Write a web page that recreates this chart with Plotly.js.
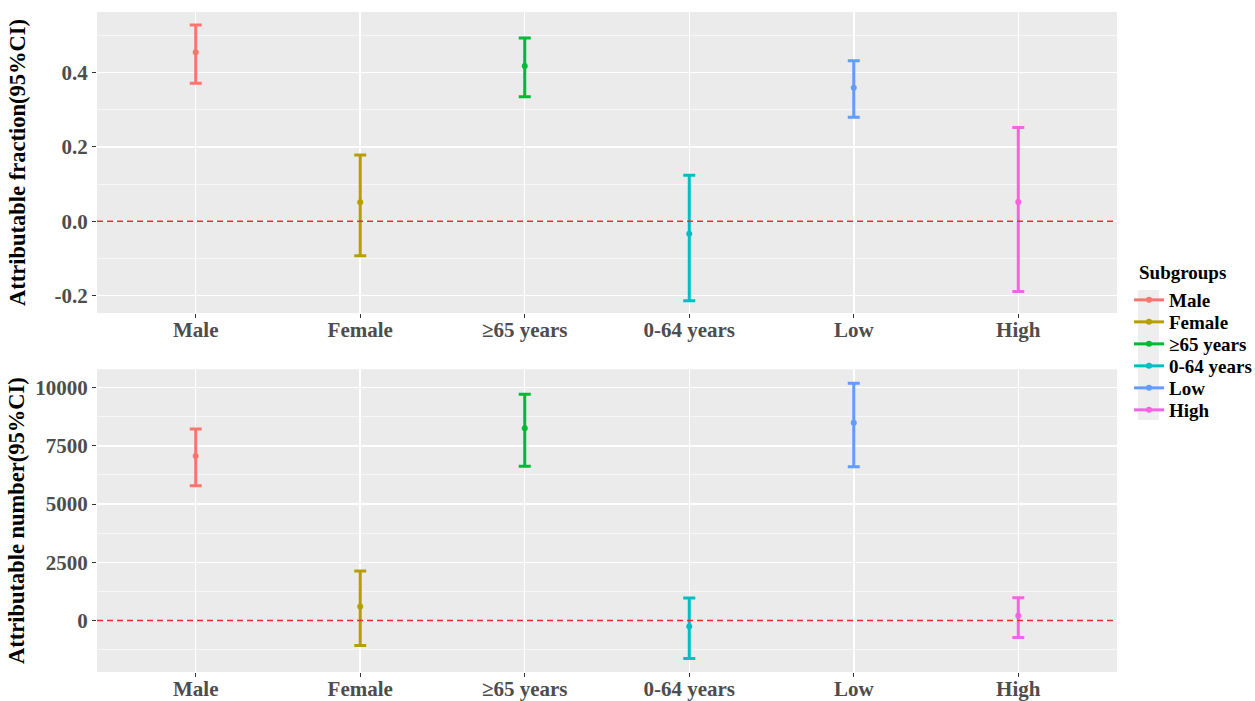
<!DOCTYPE html>
<html>
<head>
<meta charset="utf-8">
<script src="https://cdn.plot.ly/plotly-3.0.1.min.js"></script>
<style>
  html, body { margin: 0; padding: 0; background: #ffffff; }
  #chart { width: 1255px; height: 701px; }
</style>
</head>
<body>
<div id="chart"></div>
<script>
// ---- Data ----
const subgroups = ["Male", "Female", "≥65 years", "0-64 years", "Low", "High"];
const colors = ["#F8766D", "#B79F00", "#00BA38", "#00BFC4", "#619CFF", "#F564E3"];

// Attributable fraction (95% CI)
const afPoint = [0.455, 0.051, 0.418, -0.034, 0.359, 0.052];
const afLower = [0.371, -0.093, 0.335, -0.214, 0.280, -0.189];
const afUpper = [0.528, 0.178, 0.493, 0.124, 0.432, 0.252];

// Attributable number (95% CI)
const anPoint = [7070, 600, 8260, -260, 8490, 200];
const anLower = [5790, -1075, 6625, -1630, 6600, -730];
const anUpper = [8225, 2120, 9715, 960, 10190, 975];

// Tick labels
const afTickVals = [-0.2, 0.0, 0.2, 0.4];
const afTickText = ["-0.2", "0.0", "0.2", "0.4"];
const anTickVals = [0, 2500, 5000, 7500, 10000];
const anTickText = ["0", "2500", "5000", "7500", "10000"];

// ---- Geometry helpers (layout only) ----
const plotTopPx = 12, plotBottomPx = 672, plotLeftPx = 97, plotRightPx = 1117;
const pyPaper = px => (plotBottomPx - px) / (plotBottomPx - plotTopPx);
const pxPaper = px => (px - plotLeftPx) / (plotRightPx - plotLeftPx);
const legendFirstPx = 300, legendStepPx = 22;
const legendName = i => (i === 0 ? "legend" : "legend" + (i + 1));

const serif = "Liberation Serif, Times New Roman, serif";

// ---- Build traces ----
const traces = [];
function addPanel(point, lower, upper, xa, ya, showLegend) {
  subgroups.forEach((g, i) => {
    traces.push({
      type: "scatter",
      mode: "lines+markers",
      name: g,
      legendgroup: g,
      legend: legendName(i),
      showlegend: showLegend,
      x: [g],
      y: [point[i]],
      xaxis: xa,
      yaxis: ya,
      marker: { color: colors[i], size: 6 },
      line: { color: colors[i], width: 3 },
      error_y: {
        type: "data",
        symmetric: false,
        array: [upper[i] - point[i]],
        arrayminus: [point[i] - lower[i]],
        color: colors[i],
        thickness: 3,
        width: 6
      },
      hoverinfo: "x+y"
    });
  });
}
addPanel(afPoint, afLower, afUpper, "x", "y", true);
addPanel(anPoint, anLower, anUpper, "x2", "y2", false);

const tickFont = { family: serif, size: 21, color: "#4D4D4D", weight: "bold" };
const titleFont = { family: serif, size: 22.5, color: "#000000", weight: "bold" };
const legendFont = { family: serif, size: 19, color: "#000000", weight: "bold" };

function xAxis(anchor) {
  return {
    anchor: anchor,
    type: "category",
    categoryorder: "array",
    categoryarray: subgroups,
    range: [-0.6, 5.6],
    showgrid: true,
    gridcolor: "#FFFFFF",
    gridwidth: 1.5,
    zeroline: false,
    showline: false,
    ticks: "outside",
    ticklen: 4,
    tickwidth: 1,
    tickcolor: "#333333",
    tickfont: tickFont,
    ticklabelstandoff: -6,
    automargin: false,
    fixedrange: true
  };
}
function yAxis(anchor, domain, range, tv, tt, minorDtick, titleText, standoff) {
  return {
    anchor: anchor,
    domain: domain,
    range: range,
    tickmode: "array",
    tickvals: tv,
    ticktext: tt,
    showgrid: true,
    gridcolor: "#FFFFFF",
    gridwidth: 1.5,
    minor: { dtick: minorDtick, tick0: 0, showgrid: true, gridcolor: "#FFFFFF", gridwidth: 0.6, ticks: "" },
    zeroline: false,
    showline: false,
    ticks: "outside",
    ticklen: 4,
    tickwidth: 1,
    tickcolor: "#333333",
    tickfont: tickFont,
    title: { text: titleText, font: titleFont, standoff: standoff },
    automargin: false,
    fixedrange: true
  };
}

const layout = {
  width: 1255,
  height: 701,
  paper_bgcolor: "#FFFFFF",
  plot_bgcolor: "#EBEBEB",
  margin: { l: plotLeftPx, r: 1255 - plotRightPx, t: plotTopPx, b: 701 - plotBottomPx, autoexpand: false },
  showlegend: true,
  xaxis: xAxis("y"),
  xaxis2: xAxis("y2"),
  yaxis: yAxis("x", [pyPaper(313), 1], [-0.247, 0.563], afTickVals, afTickText, 0.1, "Attributable fraction(95%CI)", 22),
  yaxis2: yAxis("x2", [0, pyPaper(369.3)], [-2215, 10790], anTickVals, anTickText, 1250, "Attributable number(95%CI)", 4),
  annotations: [
    { text: "Subgroups", xref: "paper", yref: "paper", x: pxPaper(1137), y: pyPaper(272),
      xanchor: "left", yanchor: "middle", showarrow: false, font: legendFont }
  ],
  shapes: [
    { type: "line", xref: "x domain", yref: "y", x0: 0, x1: 1, y0: 0, y1: 0, layer: "above",
      line: { color: "#F0282D", width: 1.6, dash: "6px,4px" } },
    { type: "line", xref: "x2 domain", yref: "y2", x0: 0, x1: 1, y0: 0, y1: 0, layer: "above",
      line: { color: "#F0282D", width: 1.6, dash: "6px,4px" } },
    { type: "rect", xref: "paper", yref: "paper", x0: pxPaper(1138), x1: pxPaper(1159),
      y0: pyPaper(420), y1: pyPaper(290), fillcolor: "#EEEEEE", line: { width: 0 }, layer: "below" }
  ]
};

subgroups.forEach((g, i) => {
  layout[legendName(i)] = {
    font: legendFont,
    x: pxPaper(1129),
    xanchor: "left",
    y: pyPaper(legendFirstPx + legendStepPx * i),
    yanchor: "middle",
    bgcolor: "rgba(0,0,0,0)",
    itemwidth: 30
  };
});

Plotly.newPlot("chart", traces, layout, { displayModeBar: false, staticPlot: true });
</script>
</body>
</html>
